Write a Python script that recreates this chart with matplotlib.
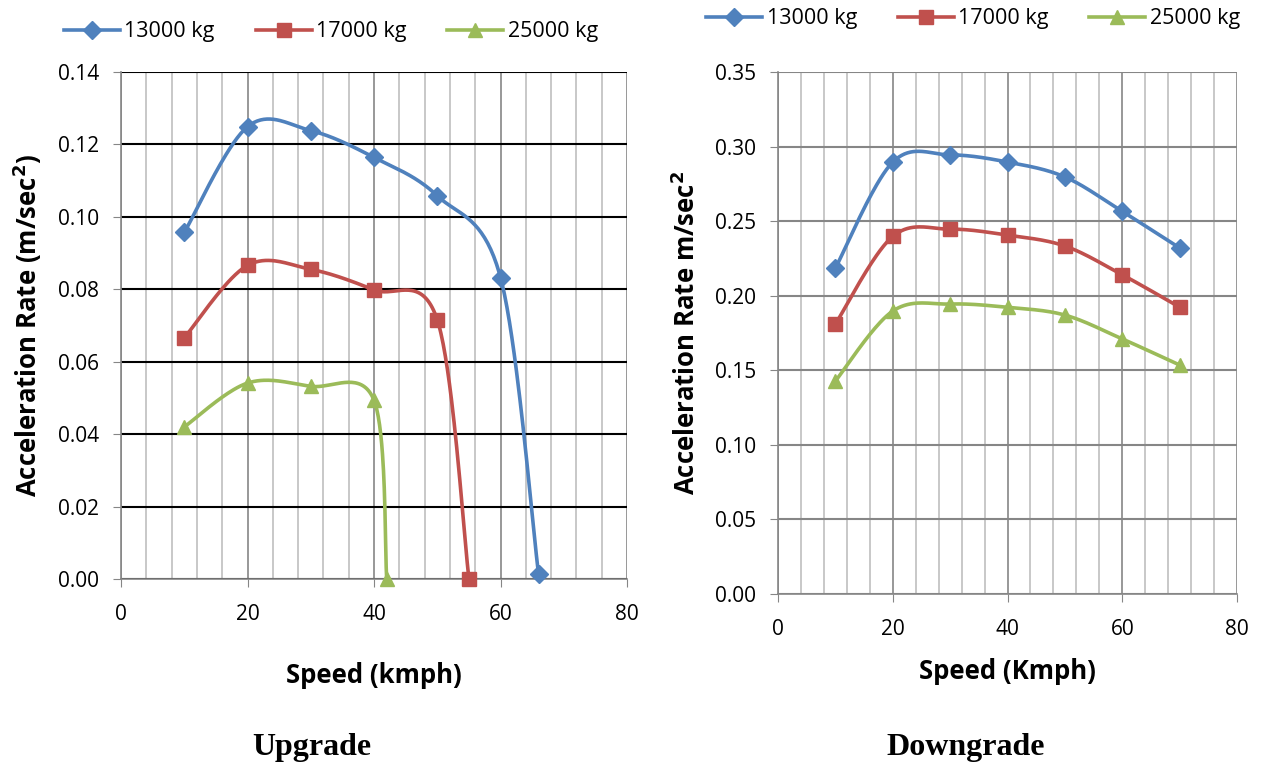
import matplotlib.pyplot as plt
import numpy as np
from matplotlib.ticker import MultipleLocator

# upgrade
up_speed = {
    '13000 kg': [10, 20, 30, 40, 50, 60, 66],
    '17000 kg': [10, 20, 30, 40, 50, 55],
    '25000 kg': [10, 20, 30, 40, 42],
}
up_acc = {
    '13000 kg': [0.0957, 0.1249, 0.1238, 0.1164, 0.1058, 0.0832, 0.0014],
    '17000 kg': [0.0666, 0.0866, 0.0855, 0.0798, 0.0715, 0.0],
    '25000 kg': [0.0420, 0.0541, 0.0532, 0.0493, 0.0],
}

# downgrade
down_speed = [10, 20, 30, 40, 50, 60, 70]
down_acc = {
    '13000 kg': [0.2185, 0.2896, 0.2944, 0.2896, 0.2796, 0.2565, 0.2320],
    '17000 kg': [0.1810, 0.2398, 0.2446, 0.2406, 0.2333, 0.2140, 0.1923],
    '25000 kg': [0.1428, 0.1897, 0.1944, 0.1922, 0.1870, 0.1710, 0.1535],
}

SERIES = ['13000 kg', '17000 kg', '25000 kg']
COLORS = {'13000 kg': '#4F81BD', '17000 kg': '#C0504D', '25000 kg': '#9BBB59'}
MARKERS = {'13000 kg': ('D', 9), '17000 kg': ('s', 10), '25000 kg': ('^', 10)}

FONT = ['Open Sans', 'DejaVu Sans']
plt.rcParams['font.family'] = FONT


def smooth(x, y, xlim, ylim, n=40):
    # excel-like smoothed line: catmull-rom bezier in normalised axes space
    sx = (np.asarray(x, float) - xlim[0]) / (xlim[1] - xlim[0])
    sy = (np.asarray(y, float) - ylim[0]) / (ylim[1] - ylim[0])
    p = np.column_stack([sx, sy])
    out = [p[0]]
    t = np.linspace(0, 1, n)[1:, None]
    for i in range(len(p) - 1):
        p0 = p[i - 1] if i > 0 else p[i]
        p3 = p[i + 2] if i + 2 < len(p) else p[i + 1]
        c1 = p[i] + (p[i + 1] - p0) / 6
        c2 = p[i + 1] - (p3 - p[i]) / 6
        seg = ((1 - t) ** 3 * p[i] + 3 * (1 - t) ** 2 * t * c1
               + 3 * (1 - t) * t ** 2 * c2 + t ** 3 * p[i + 1])
        out.extend(seg)
    out = np.array(out)
    return (out[:, 0] * (xlim[1] - xlim[0]) + xlim[0],
            out[:, 1] * (ylim[1] - ylim[0]) + ylim[0])


def style_axes(ax, ylim, ystep, hcolor, fmt):
    ax.set_xlim(0, 80)
    ax.set_ylim(*ylim)
    ax.xaxis.set_major_locator(MultipleLocator(20))
    ax.xaxis.set_minor_locator(MultipleLocator(4))
    ax.yaxis.set_major_locator(MultipleLocator(ystep))
    ax.yaxis.set_major_formatter(fmt)
    ax.grid(which='minor', axis='x', color='#BFBFBF', lw=1.2)
    ax.grid(which='major', axis='x', color='#868686', lw=1.2)
    ax.grid(which='major', axis='y', color=hcolor, lw=1.5)
    ax.set_axisbelow(True)
    for s in ['top', 'right']:
        ax.spines[s].set_visible(False)
    for s in ['left', 'bottom']:
        ax.spines[s].set_color('#868686')
        ax.spines[s].set_linewidth(1.2)
    ax.tick_params(which='major', length=6, color='#868686', labelsize=15)
    ax.tick_params(which='minor', length=0)
    ax.tick_params(axis='x', pad=12)
    ax.tick_params(axis='y', pad=10)


def draw(ax, xs, ys, xlim, ylim):
    handles = []
    for name in SERIES:
        x = xs[name] if isinstance(xs, dict) else xs
        y = ys[name]
        cx, cy = smooth(x, y, xlim, ylim)
        ax.plot(cx, cy, color=COLORS[name], lw=2.6, clip_on=False, zorder=3)
        m, ms = MARKERS[name]
        ax.plot(x, y, ls='none', marker=m, ms=ms, color=COLORS[name],
                clip_on=False, zorder=4)
        h, = ax.plot([], [], color=COLORS[name], lw=2.6, marker=m, ms=ms,
                     label=name)
        handles.append(h)
    return handles


fig = plt.figure(figsize=(12.61, 7.69), dpi=100)
ax1 = fig.add_axes([0.0960, 0.2471, 0.4013, 0.6593])
ax2 = fig.add_axes([0.6170, 0.2276, 0.3640, 0.6788])

style_axes(ax1, (0, 0.14), 0.02, 'black', '{x:.2f}')
h1 = draw(ax1, up_speed, up_acc, (0, 80), (0, 0.14))
ax1.set_xlabel('Speed (kmph)', fontsize=18.5, fontweight='bold', labelpad=27)
ax1.set_ylabel('Acceleration Rate (m/sec$^\\mathbf{2}$)', fontsize=18.5,
               fontweight='bold', labelpad=10)
ax1.legend(handles=h1, loc='lower center', bbox_to_anchor=(0.415, 1.02),
           ncol=3, frameon=False, fontsize=15.5, handlelength=2.6,
           columnspacing=1.9, handletextpad=0.2)

style_axes(ax2, (0, 0.35), 0.05, '#868686', '{x:.2f}')
h2 = draw(ax2, {n: down_speed for n in SERIES}, down_acc, (0, 80), (0, 0.35))
ax2.set_xlabel('Speed (Kmph)', fontsize=18.5, fontweight='bold', labelpad=13)
ax2.set_ylabel('Acceleration Rate m/sec$^\\mathbf{2}$', fontsize=18.5,
               fontweight='bold', labelpad=10)
ax2.legend(handles=h2, loc='lower center', bbox_to_anchor=(0.425, 1.045),
           ncol=3, frameon=False, fontsize=15.5, handlelength=2.6,
           columnspacing=1.9, handletextpad=0.2)

fig.text(0.2475, 0.018, 'Upgrade', family='Liberation Serif', fontsize=23,
         fontweight='bold', ha='center')
fig.text(0.766, 0.018, 'Downgrade', family='Liberation Serif', fontsize=23,
         fontweight='bold', ha='center')

fig.savefig('out.png', dpi=100)
